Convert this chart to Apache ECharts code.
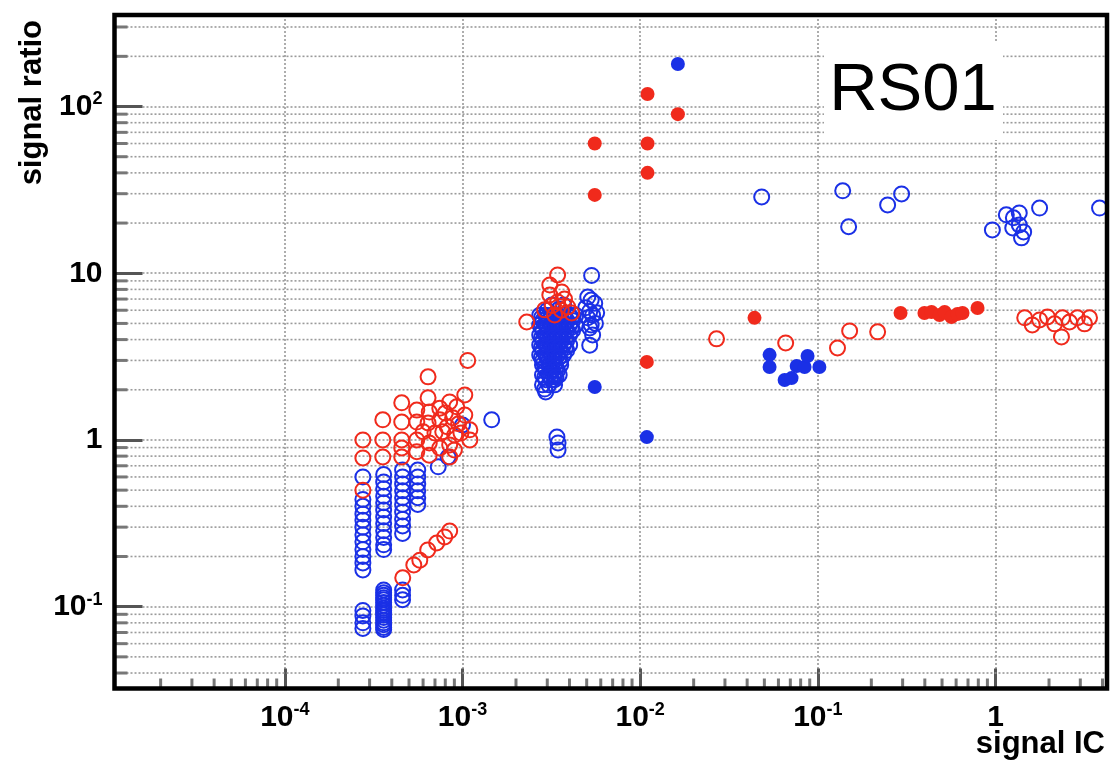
<!DOCTYPE html>
<html><head><meta charset="utf-8">
<script src="https://cdn.jsdelivr.net/npm/echarts@6/dist/echarts.min.js"></script>
<style>html,body{margin:0;padding:0;background:#fff}#c{width:1110px;height:761px}</style>
</head><body><div id="c"></div>
<script>
// ---- axis ranges & tick labels ----
const X_MIN = 1.1e-5, X_MAX = 4.24;
const Y_MIN = 0.0323, Y_MAX = 354;
const xTickValues = [1e-4, 1e-3, 1e-2, 1e-1, 1];
const xTickTexts  = ['{b|10}{s|-4}', '{b|10}{s|-3}', '{b|10}{s|-2}', '{b|10}{s|-1}', '{b|1}'];
const yTickValues = [1e-1, 1, 10, 100];
const yTickTexts  = ['{b|10}{s|-1}', '{b|1}', '{b|10}', '{b|10}{s|2}'];
const minorMultipliers = [2, 3, 4, 5, 6, 7, 8, 9];
const decades = [-5, -4, -3, -2, -1, 0, 1, 2];

// ---- data: [signal IC, signal ratio] ----
const blueOpen = [
  [2.75e-4,0.60],[2.75e-4,0.44],[2.75e-4,0.40],[2.75e-4,0.36],[2.75e-4,0.33],[2.75e-4,0.30],[2.75e-4,0.27],
  [2.75e-4,0.245],[2.75e-4,0.22],[2.75e-4,0.20],[2.75e-4,0.183],[2.75e-4,0.166],
  [2.75e-4,0.095],[2.75e-4,0.088],[2.75e-4,0.080],[2.75e-4,0.074],
  [3.6e-4,0.62],[3.6e-4,0.56],[3.6e-4,0.51],[3.6e-4,0.46],[3.6e-4,0.42],[3.6e-4,0.38],[3.6e-4,0.345],
  [3.6e-4,0.315],[3.6e-4,0.285],[3.6e-4,0.26],[3.6e-4,0.235],[3.6e-4,0.22],
  [3.6e-4,0.126],[3.6e-4,0.121],[3.6e-4,0.117],[3.6e-4,0.113],[3.6e-4,0.110],[3.6e-4,0.106],[3.6e-4,0.102],
  [3.6e-4,0.098],[3.6e-4,0.095],[3.6e-4,0.092],[3.6e-4,0.089],[3.6e-4,0.086],[3.6e-4,0.083],[3.6e-4,0.080],
  [3.6e-4,0.078],[3.6e-4,0.075],[3.6e-4,0.073],
  [4.6e-4,0.66],[4.6e-4,0.60],[4.6e-4,0.545],[4.6e-4,0.495],[4.6e-4,0.45],[4.6e-4,0.41],[4.6e-4,0.37],
  [4.6e-4,0.335],[4.6e-4,0.305],[4.6e-4,0.275],[4.6e-4,0.126],[4.6e-4,0.117],[4.6e-4,0.110],
  [5.6e-4,0.66],[5.6e-4,0.60],[5.6e-4,0.545],[5.6e-4,0.495],[5.6e-4,0.45],[5.6e-4,0.41],
  [7.3e-4,0.69],[8.3e-4,0.79],[1.0e-3,1.23],[1.46e-3,1.32],
  [3.18e-3,6.45],[3.71e-3,6.45],[3.0e-3,6.0],[3.5e-3,6.1],
  [2.72e-3,5.6],[2.94e-3,5.6],[3.18e-3,5.6],[3.43e-3,5.6],[3.71e-3,5.6],[4.01e-3,5.6],[4.34e-3,5.6],
  [2.83e-3,5.2],[3.06e-3,5.2],[3.3e-3,5.2],[3.57e-3,5.2],[3.86e-3,5.2],[4.17e-3,5.2],
  [2.72e-3,4.9],[2.94e-3,4.9],[3.18e-3,4.9],[3.43e-3,4.9],[3.71e-3,4.9],[4.01e-3,4.9],[4.34e-3,4.9],
  [2.83e-3,4.55],[3.06e-3,4.55],[3.3e-3,4.55],[3.57e-3,4.55],[3.86e-3,4.55],[4.17e-3,4.55],
  [2.72e-3,4.26],[2.94e-3,4.26],[3.18e-3,4.26],[3.43e-3,4.26],[3.71e-3,4.26],[4.01e-3,4.26],
  [2.83e-3,3.95],[3.06e-3,3.95],[3.3e-3,3.95],[3.57e-3,3.95],[3.86e-3,3.95],
  [2.72e-3,3.71],[2.94e-3,3.71],[3.18e-3,3.71],[3.43e-3,3.71],[3.71e-3,3.71],[4.01e-3,3.71],
  [2.83e-3,3.45],[3.06e-3,3.45],[3.3e-3,3.45],[3.57e-3,3.45],[3.86e-3,3.45],
  [2.72e-3,3.23],[2.94e-3,3.23],[3.18e-3,3.23],[3.43e-3,3.23],[3.71e-3,3.23],
  [2.83e-3,3.0],[3.06e-3,3.0],[3.3e-3,3.0],[3.57e-3,3.0],
  [2.82e-3,2.82],[3.06e-3,2.82],[3.3e-3,2.82],[3.57e-3,2.82],
  [2.94e-3,2.62],[3.18e-3,2.62],[3.43e-3,2.62],
  [2.82e-3,2.45],[3.06e-3,2.45],[3.3e-3,2.45],[3.5e-3,2.45],
  [2.94e-3,2.3],[3.18e-3,2.3],[3.3e-3,2.3],
  [2.82e-3,2.14],[3.06e-3,2.14],[3.3e-3,2.14],
  [2.9e-3,2.02],[2.94e-3,1.94],
  [2.78e-3,5.4],[3.0e-3,5.4],[3.25e-3,5.4],[3.5e-3,5.4],[3.8e-3,5.4],[4.1e-3,5.4],
  [2.78e-3,4.72],[3.0e-3,4.72],[3.25e-3,4.72],[3.5e-3,4.72],[3.8e-3,4.72],[4.1e-3,4.72],
  [2.78e-3,4.1],[3.0e-3,4.1],[3.25e-3,4.1],[3.5e-3,4.1],[3.8e-3,4.1],
  [2.78e-3,3.58],[3.0e-3,3.58],[3.25e-3,3.58],[3.5e-3,3.58],[3.8e-3,3.58],
  [2.78e-3,3.12],[3.0e-3,3.12],[3.25e-3,3.12],[3.5e-3,3.12],
  [2.9e-3,2.72],[3.12e-3,2.72],[3.36e-3,2.72],
  [2.9e-3,2.38],[3.12e-3,2.38],[3.36e-3,2.38],
  [5.33e-3,9.7],[5.07e-3,7.2],[5.3e-3,6.9],[5.55e-3,6.6],[4.93e-3,6.2],[5.2e-3,5.9],[5.69e-3,5.8],
  [5.4e-3,5.6],[5.07e-3,5.4],[5.6e-3,5.0],[5.3e-3,4.9],[5.2e-3,4.7],[5.4e-3,4.26],[5.2e-3,3.7],
  [3.4e-3,1.04],[3.45e-3,0.96],[3.45e-3,0.87],
  [0.0483,28.7],[0.138,31.2],[0.149,19],[0.247,25.7],[0.296,29.9],
  [0.96,18.2],[1.15,22.4],[1.26,21.5],[1.36,23],[1.25,18.7],[1.36,19.5],[1.44,17.7],[1.40,16.3],
  [1.77,24.6],[3.85,24.6]
];
const redOpen = [
  [2.75e-4,1.0],[2.75e-4,0.78],[2.75e-4,0.5],
  [3.56e-4,1.32],[3.56e-4,1.0],[3.56e-4,0.79],
  [4.55e-4,1.67],[4.55e-4,1.28],[4.55e-4,1.0],[4.55e-4,0.895],[4.55e-4,0.79],
  [5.53e-4,1.51],[5.53e-4,1.28],[5.53e-4,1.0],[5.53e-4,0.85],
  [6.4e-4,2.39],[6.4e-4,1.79],[6.5e-4,1.47],[6.4e-4,1.265],[6.5e-4,0.96],[6.5e-4,0.81],
  [7.45e-4,1.55],[7.45e-4,1.32],[7.45e-4,0.895],[7.74e-4,1.12],[7.0e-4,1.1],[6.0e-4,1.12],
  [8.47e-4,1.69],[8.47e-4,0.933],[8.47e-4,0.79],[8.2e-4,1.2],[8.0e-4,1.45],
  [8.8e-4,1.36],[9.04e-4,1.07],[9.28e-4,1.58],[9.5e-4,1.25],[9.8e-4,1.1],[9.0e-4,0.87],
  [1.03e-3,1.86],[1.03e-3,1.41],[1.07e-3,3.0],[1.1e-3,1.15],[1.1e-3,1.0],
  [4.61e-4,0.149],[5.32e-4,0.178],[5.75e-4,0.19],[6.37e-4,0.219],[7.16e-4,0.241],[7.94e-4,0.262],[8.47e-4,0.284],
  [3.43e-3,9.77],[3.1e-3,8.5],[3.62e-3,7.73],[3.1e-3,7.41],[3.43e-3,6.73],[3.91e-3,6.28],[4.12e-3,5.78],
  [2.9e-3,6.03],[3.3e-3,5.62],[3.2e-3,6.4],[3.6e-3,6.0],[3.75e-3,7.0],[2.3e-3,5.1],
  [0.0269,4.04],[0.0659,3.82],[0.129,3.56],[0.151,4.51],[0.217,4.45],
  [1.46,5.4],[1.61,4.9],[1.77,5.25],[1.96,5.47],[2.15,4.97],[2.38,5.4],[2.61,5.1],[2.89,5.4],
  [3.17,4.97],[3.38,5.4],[2.35,4.15]
];
const blueFilled = [
  [5.55e-3,2.08],[0.0109,1.04],[0.0163,180],
  [0.0535,3.24],[0.0535,2.74],[0.065,2.29],[0.0711,2.35],[0.076,2.78],[0.0842,2.74],[0.0875,3.19],[0.102,2.74]
];
const redFilled = [
  [5.55e-3,60],[5.55e-3,29.5],[0.011,119],[0.011,60],[0.011,40],[0.0163,90],[0.0109,2.94],
  [0.044,5.4],[0.292,5.78],[0.398,5.78],[0.436,5.85],[0.484,5.62],[0.517,5.85],[0.565,5.47],
  [0.611,5.7],[0.652,5.78],[0.792,6.19]
];

// ---- minor tick values (2..9 x 10^k inside the ranges) ----
function minorValues(lo, hi) {
  const out = [];
  decades.forEach(d => minorMultipliers.forEach(m => {
    const v = m * Math.pow(10, d);
    if (v > lo && v < hi) out.push(v);
  }));
  return out;
}
const xMinor = minorValues(X_MIN, X_MAX);
const yMinor = minorValues(Y_MIN, Y_MAX);

const BLUE = '#1a30e6', RED = '#f02a1c';
const FONT = '"Liberation Sans", Arial, Helvetica, sans-serif';
const gridStyle = { color: '#9a9a9a', width: 1.6, type: [2, 2] };

function fmt(values, texts) {
  return v => {
    for (let i = 0; i < values.length; i++) {
      if (Math.abs(Math.log10(v) - Math.log10(values[i])) < 1e-6) return texts[i];
    }
    return '';
  };
}
const richLabel = {
  b: { fontFamily: FONT, fontWeight: 'bold', fontSize: 30, lineHeight: 32, color: '#000' },
  s: { fontFamily: FONT, fontWeight: 'bold', fontSize: 18, lineHeight: 18, verticalAlign: 'top', color: '#000' }
};

const chart = echarts.init(document.getElementById('c'), null, { renderer: 'canvas' });
chart.setOption({
  animation: false,
  backgroundColor: '#fff',
  grid: { left: 114.5, right: 2.5, top: 15, bottom: 72.5, show: true, borderColor: '#000', borderWidth: 4.5,
          backgroundColor: 'transparent', z: 5, containLabel: false },
  xAxis: {
    type: 'log', logBase: 10, min: X_MIN, max: X_MAX,
    axisLine: { show: false },
    axisTick: { show: true, inside: true, length: 20, lineStyle: { color: '#555', width: 3 } },
    axisLabel: { formatter: fmt(xTickValues, xTickTexts), margin: 13, rich: richLabel, showMinLabel: true, showMaxLabel: true },
    splitLine: { show: true, lineStyle: gridStyle },
    minorTick: { show: false }
  },
  yAxis: {
    type: 'log', logBase: 10, min: Y_MIN, max: Y_MAX,
    axisLine: { show: false },
    axisTick: { show: true, inside: true, length: 28, lineStyle: { color: '#555', width: 3 } },
    axisLabel: { formatter: fmt(yTickValues, yTickTexts), margin: 12, rich: richLabel },
    splitLine: { show: true, lineStyle: gridStyle }
  },
  series: [
    { type: 'custom', silent: true, z: 1, clip: false,
      data: yMinor.map(v => [X_MIN, v]),
      renderItem: (params, api) => {
        const cs = params.coordSys;
        const y = api.coord([X_MIN, api.value(1)])[1];
        return { type: 'group', children: [
          { type: 'line', shape: { x1: cs.x, y1: y, x2: cs.x + cs.width, y2: y },
            style: { stroke: gridStyle.color, lineWidth: gridStyle.width, lineDash: gridStyle.type } },
          { type: 'line', shape: { x1: cs.x, y1: y, x2: cs.x + 13, y2: y }, style: { stroke: '#777', lineWidth: 3 } }
        ]};
      }
    },
    { type: 'custom', silent: true, z: 1, clip: false,
      data: xMinor.map(v => [v, Y_MIN]),
      renderItem: (params, api) => {
        const cs = params.coordSys;
        const x = api.coord([api.value(0), Y_MIN])[0];
        const yb = cs.y + cs.height;
        return { type: 'line', shape: { x1: x, y1: yb, x2: x, y2: yb - 10 }, style: { stroke: '#777', lineWidth: 3 } };
      }
    },
    { type: 'scatter', data: blueOpen, symbol: 'circle', symbolSize: 15, silent: true, z: 2,
      itemStyle: { color: 'rgba(255,255,255,0)', borderColor: BLUE, borderWidth: 2, opacity: 1 } },
    { type: 'scatter', data: redOpen, symbol: 'circle', symbolSize: 15, silent: true, z: 2,
      itemStyle: { color: 'rgba(255,255,255,0)', borderColor: RED, borderWidth: 2, opacity: 1 } },
    { type: 'scatter', data: blueFilled, symbol: 'circle', symbolSize: 14, silent: true, z: 3,
      itemStyle: { color: BLUE, opacity: 1 } },
    { type: 'scatter', data: redFilled, symbol: 'circle', symbolSize: 14, silent: true, z: 3,
      itemStyle: { color: RED, opacity: 1 } }
  ],
  graphic: [
    { type: 'text', x: 32, y: 20, rotation: Math.PI / 2, z: 10,
      style: { text: 'signal ratio', font: 'bold 31px ' + FONT, fill: '#000',
               textAlign: 'right', textVerticalAlign: 'middle', align: 'right', verticalAlign: 'middle' } },
    { type: 'text', x: 1105, y: 744, z: 10,
      style: { text: 'signal IC', font: 'bold 31px ' + FONT, fill: '#000',
               textAlign: 'right', textVerticalAlign: 'middle', align: 'right', verticalAlign: 'middle' } },
    { type: 'rect', shape: { x: 824, y: 43, width: 179, height: 97 }, z: 10, style: { fill: '#fff' } },
    { type: 'text', x: 913, y: 92, z: 11,
      style: { text: 'RS01', font: '67px ' + FONT, fill: '#000',
               textAlign: 'center', textVerticalAlign: 'middle', align: 'center', verticalAlign: 'middle' } }
  ]
});
</script></body></html>
